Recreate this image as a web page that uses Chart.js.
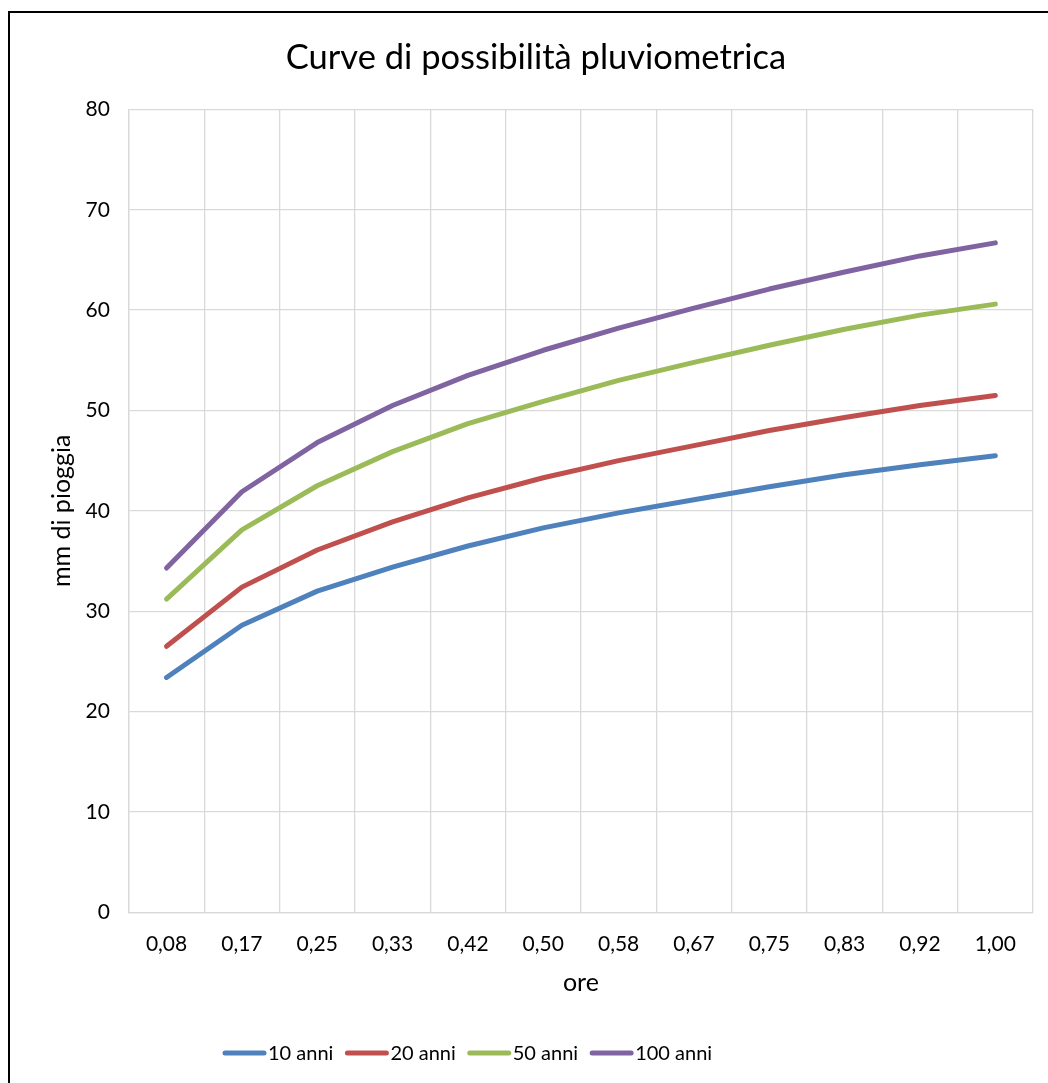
<!DOCTYPE html>
<html>
<head>
<meta charset="utf-8">
<script src="https://cdn.jsdelivr.net/npm/chart.js@4.4.1/dist/chart.umd.min.js"></script>
<style>
  html, body { margin: 0; padding: 0; background: #fff; }
  #wrap { width: 1048px; height: 1083px; position: relative; }
</style>
</head>
<body>
<div id="wrap"><canvas id="grafico"></canvas></div>
<script>
// durate (ore) e altezze di pioggia per tempo di ritorno
const ore = ['0,08', '0,17', '0,25', '0,33', '0,42', '0,50', '0,58', '0,67', '0,75', '0,83', '0,92', '1,00'];
const anni10 = [23.4, 28.6, 32.0, 34.4, 36.5, 38.3, 39.8, 41.1, 42.4, 43.6, 44.6, 45.5];
const anni20 = [26.5, 32.4, 36.1, 38.9, 41.3, 43.3, 45.0, 46.5, 48.0, 49.3, 50.5, 51.5];
const anni50 = [31.2, 38.1, 42.5, 45.9, 48.7, 50.9, 53.0, 54.8, 56.5, 58.1, 59.5, 60.6];
const anni100 = [34.3, 41.9, 46.8, 50.5, 53.5, 56.0, 58.2, 60.2, 62.1, 63.8, 65.4, 66.7];
const serie = ['10 anni', '20 anni', '50 anni', '100 anni'];
const colori = ['#4f81bd', '#c0504d', '#9bbb59', '#8064a2'];

const FONT = 'Lato, Calibri, Carlito, sans-serif';

// cornice nera attorno al grafico
const cornice = {
  id: 'cornice',
  beforeDraw(chart) {
    const c = chart.ctx;
    c.save();
    c.fillStyle = '#fff';
    c.fillRect(0, 0, chart.width, chart.height);
    c.strokeStyle = '#000';
    c.lineWidth = 2;
    c.strokeRect(9, 12, chart.width + 20, chart.height + 20);
    c.restore();
  }
};

// legenda in basso con tratti di linea
const legenda = {
  id: 'legenda',
  afterDraw(chart) {
    const c = chart.ctx;
    const y = 1053;
    const tratto = 43, gap = 2, spazio = 12;
    c.save();
    c.font = '20px ' + FONT;
    c.textBaseline = 'middle';
    let x = 223;
    chart.data.datasets.forEach(d => {
      c.strokeStyle = d.borderColor;
      c.lineWidth = 5;
      c.lineCap = 'round';
      c.beginPath();
      c.moveTo(x + 2, y);
      c.lineTo(x + tratto - 2, y);
      c.stroke();
      c.fillStyle = '#000';
      c.fillText(d.label, x + tratto + gap, y + 1);
      x += tratto + gap + c.measureText(d.label).width + spazio;
    });
    c.restore();
  }
};

const dati = [anni10, anni20, anni50, anni100];

new Chart(document.getElementById('grafico'), {
  type: 'line',
  data: {
    labels: ore,
    datasets: serie.map((nome, i) => ({
      label: nome,
      data: dati[i],
      borderColor: colori[i],
      backgroundColor: colori[i],
      borderWidth: 5,
      borderCapStyle: 'round',
      borderJoinStyle: 'round',
      pointRadius: 0,
      tension: 0,
      fill: false
    }))
  },
  plugins: [cornice, legenda],
  options: {
    responsive: true,
    maintainAspectRatio: false,
    animation: false,
    layout: { padding: { left: 39, right: 15, top: 12, bottom: 81 } },
    plugins: {
      legend: { display: false },
      tooltip: { enabled: false },
      title: {
        display: true,
        text: 'Curve di possibilità pluviometrica',
        color: '#000',
        font: { family: FONT, size: 34.5, weight: 'normal' },
        padding: { top: 25, bottom: 31 }
      }
    },
    scales: {
      x: {
        offset: true,
        grid: { offset: true, color: '#d9d9d9', lineWidth: 1.3, drawTicks: false },
        border: { color: '#d9d9d9', width: 1.3 },
        ticks: { color: '#000', padding: 19, maxRotation: 0, font: { family: FONT, size: 21 } },
        title: {
          display: true,
          text: 'ore',
          color: '#000',
          font: { family: FONT, size: 25, lineHeight: 1.2 },
          padding: { top: -7.5, bottom: 4 }
        }
      },
      y: {
        min: 0,
        max: 80,
        grid: { color: '#d9d9d9', lineWidth: 1.3, drawTicks: false },
        border: { color: '#d9d9d9', width: 1.3 },
        ticks: { stepSize: 10, color: '#000', padding: 19, font: { family: FONT, size: 21 } },
        title: {
          display: true,
          text: 'mm di pioggia',
          color: '#000',
          font: { family: FONT, size: 25, lineHeight: 1.2 },
          padding: { top: 8, bottom: -10.5 }
        }
      }
    }
  }
});
</script>
</body>
</html>
